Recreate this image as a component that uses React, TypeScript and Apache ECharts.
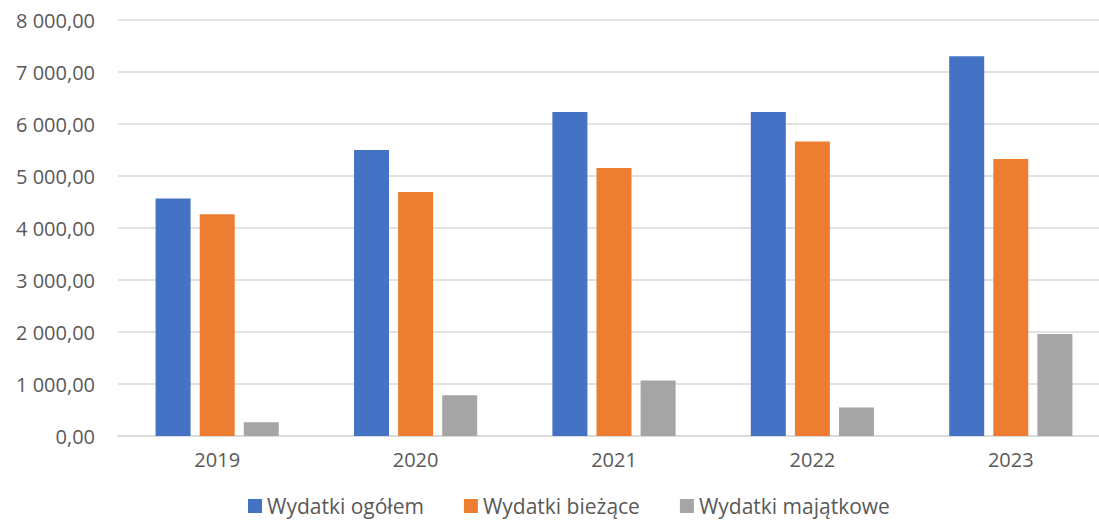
import React, { useEffect, useRef } from "react";
import * as echarts from "echarts";

const years = ["2019", "2020", "2021", "2022", "2023"];
const wydatkiOgolem = [4566, 5499, 6231, 6231, 7302];
const wydatkiBiezace = [4266, 4690, 5152, 5665, 5326];
const wydatkiMajatkowe = [264, 784, 1067, 547, 1960];
const seriesNames = ["Wydatki ogółem", "Wydatki bieżące", "Wydatki majątkowe"];
const colors = ["#4472C4", "#ED7D31", "#A5A5A5"];

function fmt(v: number): string {
  const s = Math.round(v).toString();
  const withSpaces = s.replace(/\B(?=(\d{3})+(?!\d))/g, " ");
  return withSpaces + ",00";
}

export default function App() {
  const ref = useRef<HTMLDivElement>(null);
  useEffect(() => {
    if (!ref.current) return;
    const chart = echarts.init(ref.current, undefined, { renderer: "svg" });
    const font = "'Open Sans', sans-serif";
    const data = [wydatkiOgolem, wydatkiBiezace, wydatkiMajatkowe];
    chart.setOption({
      animation: false,
      color: colors,
      textStyle: { fontFamily: font },
      grid: {
        left: 118,
        width: 992,
        top: 20,
        bottom: 84,
        outerBoundsMode: "none",
      },
      legend: {
        left: 248,
        top: 494,
        padding: 0,
        itemWidth: 14,
        itemHeight: 14,
        itemGap: 40,
        icon: "rect",
        textStyle: { fontFamily: font, fontSize: 21, lineHeight: 24, color: "#595959" },
        data: seriesNames,
      },
      xAxis: {
        type: "category",
        data: years,
        axisTick: { show: false },
        axisLine: { lineStyle: { color: "#D9D9D9", width: 1.5 } },
        axisLabel: { color: "#595959", fontSize: 20, margin: 13, fontFamily: font },
      },
      yAxis: {
        type: "value",
        min: 0,
        max: 8000,
        interval: 1000,
        axisLine: { show: false },
        axisTick: { show: false },
        splitLine: { lineStyle: { color: "#D9D9D9", width: 1.5 } },
        axisLabel: {
          color: "#595959",
          fontSize: 20,
          margin: 23,
          fontFamily: font,
          formatter: (v: number) => fmt(v),
        },
      },
      series: seriesNames.map((name, i) => ({
        name,
        type: "bar",
        data: data[i],
        barWidth: 35,
        barGap: "26%",
        itemStyle: { color: colors[i] },
      })),
    });
    return () => chart.dispose();
  }, []);
  return (
    <div
      ref={ref}
      style={{ position: "absolute", left: 0, top: 0, width: 1099, height: 520 }}
    />
  );
}
